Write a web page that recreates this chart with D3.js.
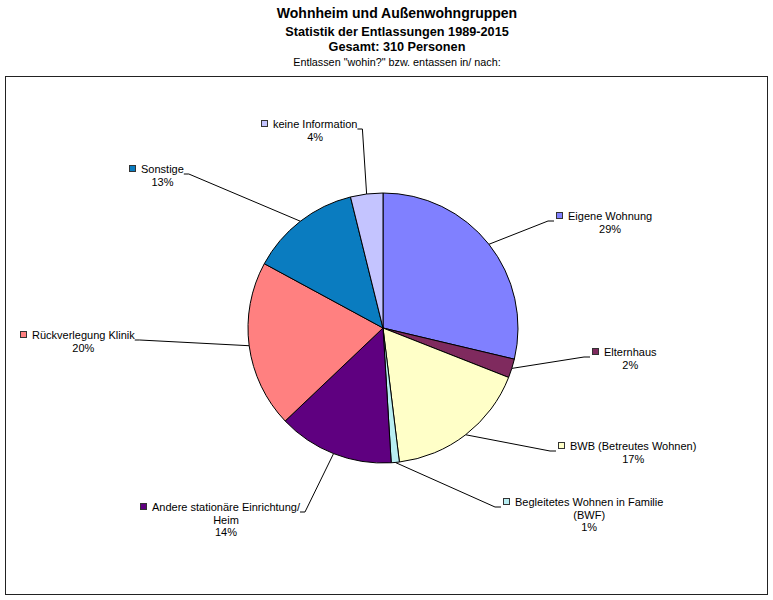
<!DOCTYPE html>
<html>
<head>
<meta charset="utf-8">
<script src="https://cdn.jsdelivr.net/npm/d3@7"></script>
<style>
  body { margin: 0; background: #fff; }
  text { font-family: "Liberation Sans", Arial, sans-serif; fill: #000; }
</style>
</head>
<body>
<div class="chart"></div>
<script>
// data (clockwise from 12 o'clock), total 310 persons
let categories = [
    "Eigene Wohnung",
    "Elternhaus",
    "BWB (Betreutes Wohnen)",
    "Begleitetes Wohnen in Familie\n(BWF)",
    "Andere stationäre Einrichtung/\nHeim",
    "Rückverlegung Klinik",
    "Sonstige",
    "keine Information"
]
let values = [89, 7, 53, 3, 43, 62, 41, 12]
let colors = ["#8080ff", "#7f2a5e", "#ffffc8", "#b8eef2", "#5f0080", "#ff8080", "#0a7cc0", "#c4c4ff"]

let titleLines = [
    "Wohnheim und Außenwohngruppen",
    "Statistik der Entlassungen 1989-2015",
    "Gesamt: 310 Personen",
    "Entlassen \"wohin?\" bzw. entassen in/ nach:"
]

// layout
let svgWidth = 773
let svgHeight = 600
let cx = 383, cy = 328, radius = 135
// label anchor: left edge of first text line, vertical middle of first line
let labelPos = [
    [568, 216], [604, 352], [570, 446], [515, 502],
    [152, 507], [32, 335], [141, 169], [273, 124]
]
let labelSide = ["r", "r", "r", "r", "l", "l", "l", "l"]

let svg = d3.select('.chart')
    .append('svg')
    .attr('width', svgWidth)
    .attr('height', svgHeight)

// titles
let titleStyle = [
    {y: 18, size: 14, weight: "bold"},
    {y: 35.5, size: 12.7, weight: "bold"},
    {y: 51, size: 12.7, weight: "bold"},
    {y: 65.5, size: 10.8, weight: "normal"}
]
titleLines.forEach((t, i) => {
    svg.append("text")
        .attr("x", 397)
        .attr("y", titleStyle[i].y)
        .attr("text-anchor", "middle")
        .style("font-size", titleStyle[i].size + "px")
        .style("font-weight", titleStyle[i].weight)
        .text(t)
})

// plot area frame
svg.append("rect")
    .attr("x", 5.5).attr("y", 76.5)
    .attr("width", 762).attr("height", 518)
    .attr("fill", "none")
    .attr("stroke", "#222")
    .attr("stroke-width", 1)

let total = d3.sum(values)
let pie = d3.pie().sort(null).value(d => d)
let arcs = pie(values)
let arc = d3.arc().innerRadius(0).outerRadius(radius)

let g = svg.append("g").attr("transform", `translate(${cx},${cy})`)

g.selectAll("path.slice")
    .data(arcs)
    .join("path")
    .attr("class", "slice")
    .attr("d", arc)
    .attr("fill", (d, i) => colors[i])
    .attr("stroke", "#000")
    .attr("stroke-width", 1)

// labels + leader lines
arcs.forEach((d, i) => {
    let [lx, ly] = labelPos[i]
    let lines = categories[i].split("\n")
    lines.push(Math.round(d.value / total * 100) + "%")

    let lg = svg.append("g")
    let first = lg.append("text")
        .attr("x", lx)
        .attr("y", ly + 4)
        .style("font-size", "11px")
        .text(lines[0])
    let w = first.node().getComputedTextLength()
    lines.slice(1).forEach((t, k) => {
        lg.append("text")
            .attr("x", lx + w / 2)
            .attr("y", ly + 4 + 12.5 * (k + 1))
            .attr("text-anchor", "middle")
            .style("font-size", "11px")
            .text(t)
    })
    lg.append("rect")
        .attr("x", lx - 11.5).attr("y", ly - 3.5)
        .attr("width", 6).attr("height", 6)
        .attr("fill", colors[i])
        .attr("stroke", "#333")

    // point on the rim at the middle angle
    let mid = (d.startAngle + d.endAngle) / 2
    let px = cx + radius * Math.sin(mid)
    let py = cy - radius * Math.cos(mid)
    let pts
    if (labelSide[i] == "r") {
        pts = [[px, py], [lx - 20, ly + 5], [lx - 14, ly + 5]]
    } else {
        pts = [[lx + w, ly + 5], [lx + w + 5, ly + 5], [px, py]]
    }
    svg.append("path")
        .attr("d", d3.line()(pts))
        .attr("fill", "none")
        .attr("stroke", "#000")
        .attr("stroke-width", 1)
})
</script>
</body>
</html>
